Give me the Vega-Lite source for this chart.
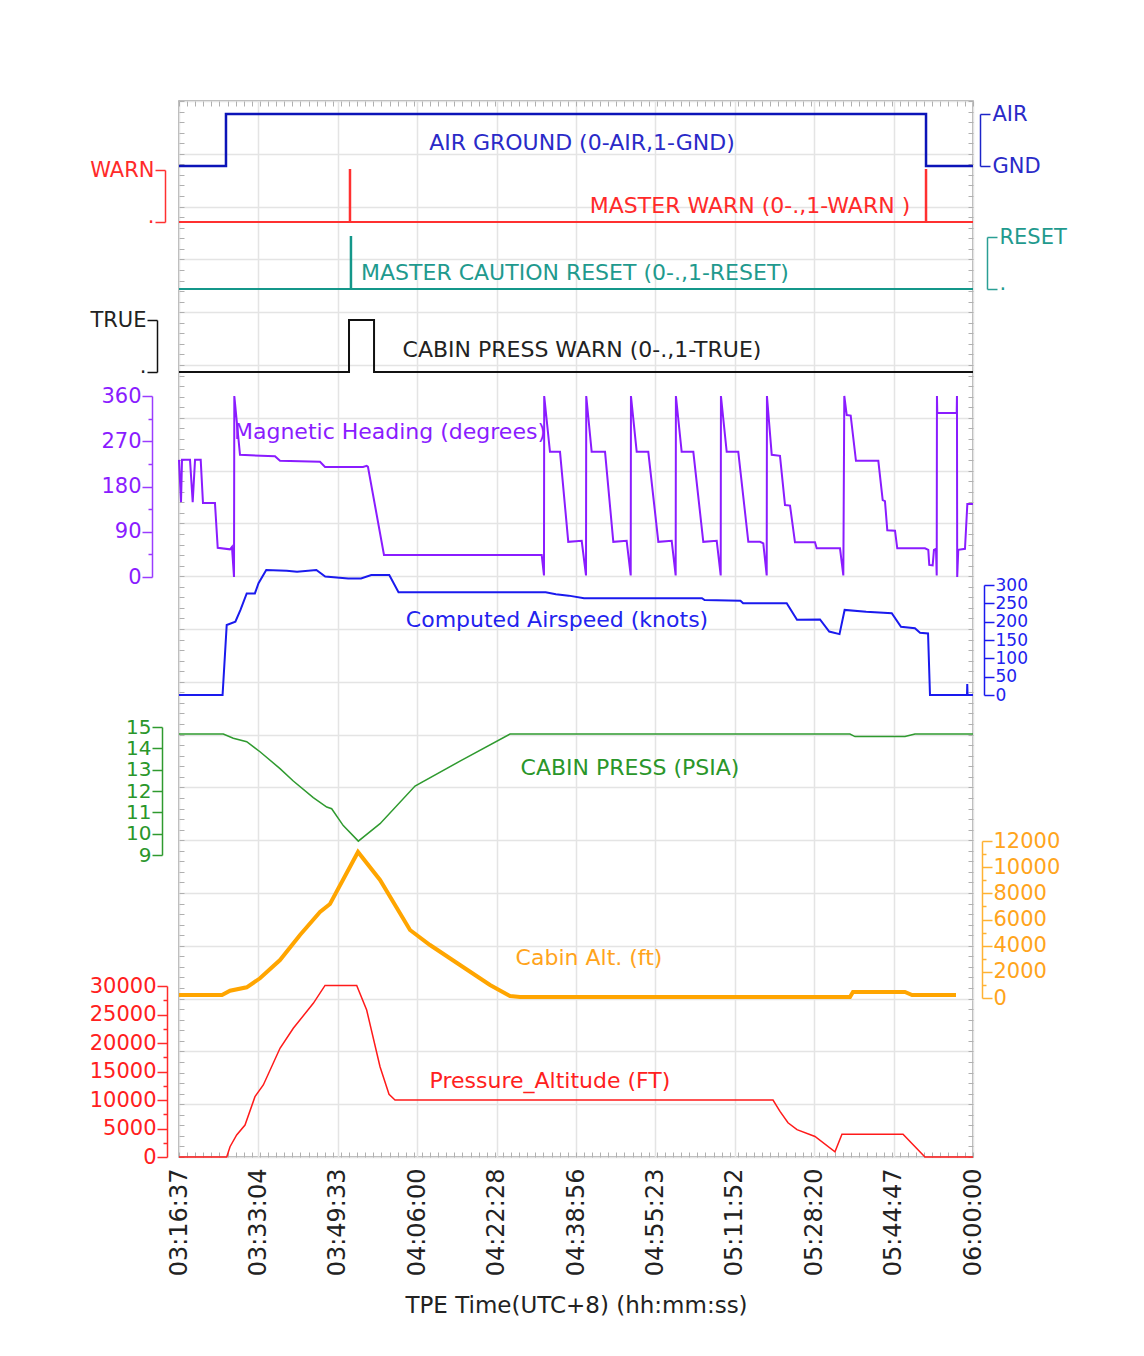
{
  "$schema": "https://vega.github.io/schema/vega-lite/v6.json",
  "width": 794,
  "height": 1056,
  "autosize": {"type": "none"},
  "padding": {"left": 179, "top": 101, "right": 171, "bottom": 199},
  "background": "white",
  "config": {
    "view": {"stroke": "#9a9a9a", "strokeWidth": 1.5},
    "font": "DejaVu Sans",
    "text": {"fontSize": 22, "align": "center", "baseline": "middle"},
    "axis": {"labelFont": "DejaVu Sans", "titleFont": "DejaVu Sans", "grid": false, "labelOverlap": false, "labelFlush": false, "labelBound": false, "title": null}
  },
  "datasets": {
    "frame": [{"t": 0, "g": 0}],
    "ag": [{"t": 0, "v": 1}, {"t": 580, "v": 0}, {"t": 9223, "v": 1}, {"t": 9803, "v": 1}],
    "mw": [{"t": 0, "v": 0}, {"t": 2108, "v": 1}, {"t": 2114, "v": 0}, {"t": 9220, "v": 1}, {"t": 9226, "v": 0}, {"t": 9803, "v": 0}],
    "mc": [{"t": 0, "v": 0}, {"t": 2120, "v": 1}, {"t": 2126, "v": 0}, {"t": 9803, "v": 0}],
    "cpw": [{"t": 0, "v": 0}, {"t": 2099, "v": 1}, {"t": 2408, "v": 0}, {"t": 9803, "v": 0}],
    "hdg": [
      {"t": 0, "v": 233}, {"t": 25, "v": 149}, {"t": 37, "v": 233}, {"t": 136, "v": 233}, {"t": 169, "v": 149}, {"t": 198, "v": 233},
      {"t": 268, "v": 233}, {"t": 296, "v": 147}, {"t": 444, "v": 147}, {"t": 478, "v": 58}, {"t": 630, "v": 55}, {"t": 654, "v": 60},
      {"t": 679, "v": 0}, {"t": 683, "v": 360}, {"t": 753, "v": 243}, {"t": 1185, "v": 240}, {"t": 1247, "v": 231}, {"t": 1741, "v": 229},
      {"t": 1803, "v": 219}, {"t": 2272, "v": 219}, {"t": 2317, "v": 221}, {"t": 2333, "v": 219}, {"t": 2531, "v": 44}, {"t": 4478, "v": 44},
      {"t": 4506, "v": 3}, {"t": 4509, "v": 360}, {"t": 4580, "v": 249}, {"t": 4704, "v": 249}, {"t": 4806, "v": 70}, {"t": 4972, "v": 72},
      {"t": 5025, "v": 3}, {"t": 5028, "v": 360}, {"t": 5095, "v": 249}, {"t": 5260, "v": 249}, {"t": 5362, "v": 70}, {"t": 5527, "v": 72},
      {"t": 5577, "v": 3}, {"t": 5580, "v": 360}, {"t": 5651, "v": 249}, {"t": 5794, "v": 249}, {"t": 5918, "v": 70}, {"t": 6083, "v": 72},
      {"t": 6132, "v": 3}, {"t": 6135, "v": 360}, {"t": 6206, "v": 249}, {"t": 6350, "v": 249}, {"t": 6473, "v": 70}, {"t": 6639, "v": 72},
      {"t": 6688, "v": 3}, {"t": 6691, "v": 360}, {"t": 6762, "v": 249}, {"t": 6905, "v": 249}, {"t": 7029, "v": 70}, {"t": 7173, "v": 70},
      {"t": 7214, "v": 67}, {"t": 7256, "v": 3}, {"t": 7259, "v": 360}, {"t": 7318, "v": 243}, {"t": 7420, "v": 241}, {"t": 7482, "v": 143},
      {"t": 7544, "v": 142}, {"t": 7605, "v": 69}, {"t": 7852, "v": 69}, {"t": 7873, "v": 57}, {"t": 8161, "v": 57}, {"t": 8202, "v": 3},
      {"t": 8214, "v": 360}, {"t": 8244, "v": 322}, {"t": 8293, "v": 321}, {"t": 8358, "v": 231}, {"t": 8634, "v": 231}, {"t": 8688, "v": 153},
      {"t": 8716, "v": 151}, {"t": 8745, "v": 93}, {"t": 8840, "v": 92}, {"t": 8868, "v": 57}, {"t": 9210, "v": 57}, {"t": 9251, "v": 54},
      {"t": 9263, "v": 24}, {"t": 9305, "v": 23}, {"t": 9321, "v": 54}, {"t": 9346, "v": 56}, {"t": 9355, "v": 3}, {"t": 9358, "v": 360},
      {"t": 9362, "v": 326}, {"t": 9602, "v": 326}, {"t": 9605, "v": 360}, {"t": 9608, "v": 0}, {"t": 9621, "v": 54}, {"t": 9704, "v": 56},
      {"t": 9733, "v": 145}, {"t": 9803, "v": 145}
    ],
    "cas": [
      {"t": 0, "v": 0}, {"t": 538, "v": 0}, {"t": 589, "v": 191}, {"t": 696, "v": 200}, {"t": 759, "v": 232}, {"t": 836, "v": 277},
      {"t": 937, "v": 277}, {"t": 982, "v": 305}, {"t": 1077, "v": 341}, {"t": 1330, "v": 339}, {"t": 1457, "v": 336}, {"t": 1696, "v": 341},
      {"t": 1805, "v": 323}, {"t": 2089, "v": 318}, {"t": 2247, "v": 318}, {"t": 2374, "v": 327}, {"t": 2596, "v": 327}, {"t": 2710, "v": 280},
      {"t": 4527, "v": 280}, {"t": 4653, "v": 275}, {"t": 4811, "v": 271}, {"t": 5001, "v": 264}, {"t": 6457, "v": 264}, {"t": 6489, "v": 259},
      {"t": 6932, "v": 257}, {"t": 6965, "v": 250}, {"t": 7503, "v": 250}, {"t": 7630, "v": 205}, {"t": 7914, "v": 206}, {"t": 8028, "v": 173},
      {"t": 8155, "v": 166}, {"t": 8218, "v": 232}, {"t": 8484, "v": 227}, {"t": 8800, "v": 223}, {"t": 8914, "v": 186}, {"t": 9086, "v": 182},
      {"t": 9149, "v": 170}, {"t": 9248, "v": 168}, {"t": 9272, "v": 0}, {"t": 9729, "v": 0}, {"t": 9732, "v": 30}, {"t": 9736, "v": 0},
      {"t": 9803, "v": 0}
    ],
    "cp": [
      {"t": 0, "v": 14.67}, {"t": 547, "v": 14.67}, {"t": 670, "v": 14.47}, {"t": 836, "v": 14.31}, {"t": 1000, "v": 13.84},
      {"t": 1247, "v": 13.05}, {"t": 1411, "v": 12.47}, {"t": 1658, "v": 11.69}, {"t": 1824, "v": 11.25}, {"t": 1885, "v": 11.17},
      {"t": 2028, "v": 10.38}, {"t": 2214, "v": 9.65}, {"t": 2482, "v": 10.47}, {"t": 2914, "v": 12.23}, {"t": 3469, "v": 13.4},
      {"t": 4087, "v": 14.67}, {"t": 8284, "v": 14.67}, {"t": 8346, "v": 14.55}, {"t": 8963, "v": 14.55}, {"t": 9087, "v": 14.67},
      {"t": 9803, "v": 14.67}
    ],
    "calt": [
      {"t": 0, "v": 230}, {"t": 531, "v": 230}, {"t": 630, "v": 556}, {"t": 836, "v": 818}, {"t": 1000, "v": 1506}, {"t": 1247, "v": 2900},
      {"t": 1494, "v": 4815}, {"t": 1741, "v": 6573}, {"t": 1864, "v": 7185}, {"t": 2210, "v": 11160}, {"t": 2482, "v": 9019},
      {"t": 2852, "v": 5198}, {"t": 3099, "v": 4051}, {"t": 3469, "v": 2522}, {"t": 3840, "v": 994}, {"t": 4087, "v": 150}, {"t": 4210, "v": 76},
      {"t": 8284, "v": 76}, {"t": 8321, "v": 460}, {"t": 8963, "v": 460}, {"t": 9050, "v": 230}, {"t": 9593, "v": 230}
    ],
    "palt": [
      {"t": 0, "v": 0}, {"t": 589, "v": 0}, {"t": 630, "v": 1807}, {"t": 712, "v": 3860}, {"t": 815, "v": 5614}, {"t": 938, "v": 10585},
      {"t": 1041, "v": 12632}, {"t": 1247, "v": 19070}, {"t": 1411, "v": 22580}, {"t": 1658, "v": 26965}, {"t": 1803, "v": 30100},
      {"t": 2194, "v": 30100}, {"t": 2317, "v": 25790}, {"t": 2482, "v": 15840}, {"t": 2593, "v": 11000}, {"t": 2667, "v": 10000},
      {"t": 7334, "v": 10000}, {"t": 7420, "v": 8000}, {"t": 7519, "v": 6000}, {"t": 7630, "v": 4800}, {"t": 7852, "v": 3600},
      {"t": 8099, "v": 900}, {"t": 8185, "v": 4000}, {"t": 8939, "v": 4000}, {"t": 9210, "v": 0}, {"t": 9803, "v": 0}
    ],
    "labels": [
      {"s": "ag", "t": 4975, "v": 0.56, "label": "AIR GROUND (0-AIR,1-GND)"},
      {"s": "mw", "t": 7050, "v": 0.31, "label": "MASTER WARN (0-.,1-WARN )"},
      {"s": "mc", "t": 4889, "v": 0.31, "label": "MASTER CAUTION RESET (0-.,1-RESET)"},
      {"s": "cpw", "t": 4975, "v": 0.42, "label": "CABIN PRESS WARN (0-.,1-TRUE)"},
      {"s": "hdg", "t": 2605, "v": 288, "label": "Magnetic Heading (degrees)"},
      {"s": "cas", "t": 4667, "v": 204, "label": "Computed Airspeed (knots)"},
      {"s": "cp", "t": 5568, "v": 13.08, "label": "CABIN PRESS (PSIA)"},
      {"s": "calt", "t": 5062, "v": 3057, "label": "Cabin Alt. (ft)"},
      {"s": "palt", "t": 4580, "v": 13333, "label": "Pressure_Altitude (FT)"}
    ]
  },
  "resolve": {"scale": {"x": "shared", "y": "independent"}, "axis": {"x": "independent", "y": "independent"}},
  "layer": [
    {
      "data": {"name": "frame"},
      "mark": {"type": "point", "opacity": 0},
      "encoding": {
        "x": {"field": "t", "type": "quantitative", "scale": {"domain": [0, 9803], "nice": false, "zero": false},
          "axis": {"orient": "bottom", "values": [0, 980.3, 1960.6, 2940.9, 3921.2, 4901.5, 5881.8, 6862.1, 7842.4, 8822.7, 9803],
            "labelExpr": "['03:16:37','03:33:04','03:49:33','04:06:00','04:22:28','04:38:56','04:55:23','05:11:52','05:28:20','05:44:47','06:00:00'][round(datum.value/980.3)]",
            "labelAngle": -90, "labelFontSize": 24, "labelColor": "#222222", "labelPadding": 11,
            "grid": true, "gridColor": "#e4e4e4", "gridWidth": 1.5, "ticks": false, "tickSize": 0, "domain": false,
            "title": "TPE Time(UTC+8) (hh:mm:ss)", "titleFontSize": 23, "titleFontWeight": "normal", "titleColor": "#222222", "titlePadding": 19}},
        "y": {"field": "g", "type": "quantitative", "scale": {"domain": [0, 100], "nice": false, "zero": false},
          "axis": {"orient": "left", "values": [0, 5, 10, 15, 20, 25, 30, 35, 40, 45, 50, 55, 60, 65, 70, 75, 80, 85, 90, 95, 100],
            "grid": true, "gridColor": "#e4e4e4", "gridWidth": 1.5, "labels": false, "ticks": false, "domain": false}}
      }
    },
    {
      "data": {"name": "frame"},
      "mark": {"type": "point", "opacity": 0},
      "encoding": {
        "x": {"field": "t", "type": "quantitative", "scale": {"domain": [0, 9803], "nice": false, "zero": false},
          "axis": {"orient": "bottom", "tickCount": 100, "tickSize": -5, "tickColor": "#b0b0b0", "labels": false, "domain": false, "grid": false}},
        "y": {"field": "g", "type": "quantitative", "scale": {"domain": [0, 100], "nice": false, "zero": false},
          "axis": {"orient": "left", "tickCount": 100, "tickSize": -5, "tickColor": "#b0b0b0", "labels": false, "domain": false, "grid": false}}
      }
    },
    {
      "data": {"name": "frame"},
      "mark": {"type": "point", "opacity": 0},
      "encoding": {
        "x": {"field": "t", "type": "quantitative", "scale": {"domain": [0, 9803], "nice": false, "zero": false},
          "axis": {"orient": "top", "tickCount": 100, "tickSize": -5, "tickColor": "#b0b0b0", "labels": false, "domain": false, "grid": false}},
        "y": {"field": "g", "type": "quantitative", "scale": {"domain": [0, 100], "nice": false, "zero": false},
          "axis": {"orient": "right", "tickCount": 100, "tickSize": -5, "tickColor": "#b0b0b0", "labels": false, "domain": false, "grid": false}}
      }
    },
    {
      "data": {"name": "ag"},
      "mark": {"type": "line", "interpolate": "step-after", "color": "#0c14b8", "strokeWidth": 2.5},
      "encoding": {
        "x": {"field": "t", "type": "quantitative", "scale": {"domain": [0, 9803], "nice": false, "zero": false}, "axis": null},
        "y": {"field": "v", "type": "quantitative", "scale": {"domain": [0, 1], "range": [13, 65], "nice": false, "zero": false},
          "axis": {"orient": "right", "offset": 7, "values": [0, 1], "labelExpr": "datum.value == 0 ? 'AIR' : 'GND'",
            "domainColor": "#1c24c8", "tickColor": "#1c24c8", "labelColor": "#2a2ac8", "domainWidth": 1.5, "tickWidth": 1.5,
            "tickSize": 10, "labelPadding": 2, "labelFontSize": 21}}
      }
    },
    {
      "data": {"name": "labels"},
      "transform": [{"filter": "datum.s == 'ag'"}],
      "mark": {"type": "text", "color": "#2a2ac8"},
      "encoding": {
        "x": {"field": "t", "type": "quantitative", "scale": {"domain": [0, 9803], "nice": false, "zero": false}, "axis": null},
        "y": {"field": "v", "type": "quantitative", "scale": {"domain": [0, 1], "range": [13, 65], "nice": false, "zero": false}, "axis": null},
        "text": {"field": "label"}
      }
    },
    {
      "data": {"name": "mw"},
      "mark": {"type": "line", "interpolate": "step-after", "color": "#ff3030", "strokeWidth": 2},
      "encoding": {
        "x": {"field": "t", "type": "quantitative", "scale": {"domain": [0, 9803], "nice": false, "zero": false}, "axis": null},
        "y": {"field": "v", "type": "quantitative", "scale": {"domain": [0, 1], "range": [121, 69], "nice": false, "zero": false},
          "axis": {"orient": "left", "offset": 14, "values": [0, 1], "labelExpr": "datum.value == 1 ? 'WARN' : '.'",
            "labelBaseline": {"condition": {"test": "datum.value == 0", "value": "alphabetic"}, "value": "middle"},
            "domainColor": "#ff3030", "tickColor": "#ff3030", "labelColor": "#ff2a2a", "domainWidth": 1.5, "tickWidth": 1.5,
            "tickSize": 10, "labelPadding": 1, "labelFontSize": 21}}
      }
    },
    {
      "data": {"name": "labels"},
      "transform": [{"filter": "datum.s == 'mw'"}],
      "mark": {"type": "text", "color": "#ff2a2a"},
      "encoding": {
        "x": {"field": "t", "type": "quantitative", "scale": {"domain": [0, 9803], "nice": false, "zero": false}, "axis": null},
        "y": {"field": "v", "type": "quantitative", "scale": {"domain": [0, 1], "range": [121, 69], "nice": false, "zero": false}, "axis": null},
        "text": {"field": "label"}
      }
    },
    {
      "data": {"name": "mc"},
      "mark": {"type": "line", "interpolate": "step-after", "color": "#14978a", "strokeWidth": 2},
      "encoding": {
        "x": {"field": "t", "type": "quantitative", "scale": {"domain": [0, 9803], "nice": false, "zero": false}, "axis": null},
        "y": {"field": "v", "type": "quantitative", "scale": {"domain": [0, 1], "range": [188, 136], "nice": false, "zero": false},
          "axis": {"orient": "right", "offset": 14, "values": [0, 1], "labelExpr": "datum.value == 1 ? 'RESET' : '.'",
            "labelBaseline": {"condition": {"test": "datum.value == 0", "value": "alphabetic"}, "value": "middle"},
            "domainColor": "#2a9f94", "tickColor": "#2a9f94", "labelColor": "#1f9a8e", "domainWidth": 1.5, "tickWidth": 1.5,
            "tickSize": 10, "labelPadding": 2, "labelFontSize": 21}}
      }
    },
    {
      "data": {"name": "labels"},
      "transform": [{"filter": "datum.s == 'mc'"}],
      "mark": {"type": "text", "color": "#1f9a8e"},
      "encoding": {
        "x": {"field": "t", "type": "quantitative", "scale": {"domain": [0, 9803], "nice": false, "zero": false}, "axis": null},
        "y": {"field": "v", "type": "quantitative", "scale": {"domain": [0, 1], "range": [188, 136], "nice": false, "zero": false}, "axis": null},
        "text": {"field": "label"}
      }
    },
    {
      "data": {"name": "cpw"},
      "mark": {"type": "line", "interpolate": "step-after", "color": "#111111", "strokeWidth": 2},
      "encoding": {
        "x": {"field": "t", "type": "quantitative", "scale": {"domain": [0, 9803], "nice": false, "zero": false}, "axis": null},
        "y": {"field": "v", "type": "quantitative", "scale": {"domain": [0, 1], "range": [271, 219], "nice": false, "zero": false},
          "axis": {"orient": "left", "offset": 22, "values": [0, 1], "labelExpr": "datum.value == 1 ? 'TRUE' : '.'",
            "labelBaseline": {"condition": {"test": "datum.value == 0", "value": "alphabetic"}, "value": "middle"},
            "domainColor": "#111111", "tickColor": "#111111", "labelColor": "#222222", "domainWidth": 1.5, "tickWidth": 1.5,
            "tickSize": 10, "labelPadding": 1, "labelFontSize": 21}}
      }
    },
    {
      "data": {"name": "labels"},
      "transform": [{"filter": "datum.s == 'cpw'"}],
      "mark": {"type": "text", "color": "#222222"},
      "encoding": {
        "x": {"field": "t", "type": "quantitative", "scale": {"domain": [0, 9803], "nice": false, "zero": false}, "axis": null},
        "y": {"field": "v", "type": "quantitative", "scale": {"domain": [0, 1], "range": [271, 219], "nice": false, "zero": false}, "axis": null},
        "text": {"field": "label"}
      }
    },
    {
      "data": {"name": "hdg"},
      "mark": {"type": "line", "color": "#8a1cff", "strokeWidth": 2},
      "encoding": {
        "x": {"field": "t", "type": "quantitative", "scale": {"domain": [0, 9803], "nice": false, "zero": false}, "axis": null},
        "y": {"field": "v", "type": "quantitative", "scale": {"domain": [0, 360], "range": [476, 295], "nice": false, "zero": false},
          "axis": {"orient": "left", "offset": 27, "values": [0, 45, 90, 135, 180, 225, 270, 315, 360], "format": "d",
            "labelExpr": "datum.value % 90 === 0 ? datum.label : ''",
            "domainColor": "#9a3cff", "tickColor": "#9a3cff", "labelColor": "#8a1cff", "domainWidth": 1.5, "tickWidth": 1.5,
            "tickSize": {"condition": {"test": "datum.value % 90 === 0", "value": 10}, "value": 4}, "labelPadding": 1, "labelFontSize": 21}}
      }
    },
    {
      "data": {"name": "labels"},
      "transform": [{"filter": "datum.s == 'hdg'"}],
      "mark": {"type": "text", "color": "#8a1cff"},
      "encoding": {
        "x": {"field": "t", "type": "quantitative", "scale": {"domain": [0, 9803], "nice": false, "zero": false}, "axis": null},
        "y": {"field": "v", "type": "quantitative", "scale": {"domain": [0, 360], "range": [476, 295], "nice": false, "zero": false}, "axis": null},
        "text": {"field": "label"}
      }
    },
    {
      "data": {"name": "cas"},
      "mark": {"type": "line", "color": "#1a1aee", "strokeWidth": 2},
      "encoding": {
        "x": {"field": "t", "type": "quantitative", "scale": {"domain": [0, 9803], "nice": false, "zero": false}, "axis": null},
        "y": {"field": "v", "type": "quantitative", "scale": {"domain": [0, 300], "range": [594, 484], "nice": false, "zero": false},
          "axis": {"orient": "right", "offset": 11, "values": [0, 50, 100, 150, 200, 250, 300], "format": "d",
            "domainColor": "#1a1aee", "tickColor": "#1a1aee", "labelColor": "#2222ee", "domainWidth": 1.5, "tickWidth": 1.5,
            "tickSize": 10, "labelPadding": 1, "labelFontSize": 17}}
      }
    },
    {
      "data": {"name": "labels"},
      "transform": [{"filter": "datum.s == 'cas'"}],
      "mark": {"type": "text", "color": "#2222ee"},
      "encoding": {
        "x": {"field": "t", "type": "quantitative", "scale": {"domain": [0, 9803], "nice": false, "zero": false}, "axis": null},
        "y": {"field": "v", "type": "quantitative", "scale": {"domain": [0, 300], "range": [594, 484], "nice": false, "zero": false}, "axis": null},
        "text": {"field": "label"}
      }
    },
    {
      "data": {"name": "cp"},
      "mark": {"type": "line", "color": "#2f9a2f", "strokeWidth": 1.5},
      "encoding": {
        "x": {"field": "t", "type": "quantitative", "scale": {"domain": [0, 9803], "nice": false, "zero": false}, "axis": null},
        "y": {"field": "v", "type": "quantitative", "scale": {"domain": [9, 15], "range": [754, 626], "nice": false, "zero": false},
          "axis": {"orient": "left", "offset": 17, "values": [9, 10, 11, 12, 13, 14, 15], "format": "d",
            "domainColor": "#2f9a2f", "tickColor": "#2f9a2f", "labelColor": "#2a962a", "domainWidth": 1.5, "tickWidth": 1.5,
            "tickSize": 10, "labelPadding": 1, "labelFontSize": 20}}
      }
    },
    {
      "data": {"name": "labels"},
      "transform": [{"filter": "datum.s == 'cp'"}],
      "mark": {"type": "text", "color": "#2a962a"},
      "encoding": {
        "x": {"field": "t", "type": "quantitative", "scale": {"domain": [0, 9803], "nice": false, "zero": false}, "axis": null},
        "y": {"field": "v", "type": "quantitative", "scale": {"domain": [9, 15], "range": [754, 626], "nice": false, "zero": false}, "axis": null},
        "text": {"field": "label"}
      }
    },
    {
      "data": {"name": "calt"},
      "mark": {"type": "line", "color": "#ffa500", "strokeWidth": 4},
      "encoding": {
        "x": {"field": "t", "type": "quantitative", "scale": {"domain": [0, 9803], "nice": false, "zero": false}, "axis": null},
        "y": {"field": "v", "type": "quantitative", "scale": {"domain": [0, 12000], "range": [897, 740], "nice": false, "zero": false},
          "axis": {"orient": "right", "offset": 9, "values": [0, 1000, 2000, 3000, 4000, 5000, 6000, 7000, 8000, 9000, 10000, 11000, 12000], "format": "d",
            "labelExpr": "datum.value % 2000 === 0 ? datum.label : ''",
            "domainColor": "#ffb233", "tickColor": "#ffb233", "labelColor": "#ffa41c", "domainWidth": 1.5, "tickWidth": 1.5,
            "tickSize": {"condition": {"test": "datum.value % 2000 === 0", "value": 10}, "value": 4}, "labelPadding": 1, "labelFontSize": 21}}
      }
    },
    {
      "data": {"name": "labels"},
      "transform": [{"filter": "datum.s == 'calt'"}],
      "mark": {"type": "text", "color": "#ffa41c"},
      "encoding": {
        "x": {"field": "t", "type": "quantitative", "scale": {"domain": [0, 9803], "nice": false, "zero": false}, "axis": null},
        "y": {"field": "v", "type": "quantitative", "scale": {"domain": [0, 12000], "range": [897, 740], "nice": false, "zero": false}, "axis": null},
        "text": {"field": "label"}
      }
    },
    {
      "data": {"name": "palt"},
      "mark": {"type": "line", "color": "#ff1a1a", "strokeWidth": 1.5},
      "encoding": {
        "x": {"field": "t", "type": "quantitative", "scale": {"domain": [0, 9803], "nice": false, "zero": false}, "axis": null},
        "y": {"field": "v", "type": "quantitative", "scale": {"domain": [0, 30000], "range": [1056, 885], "nice": false, "zero": false},
          "axis": {"orient": "left", "offset": 12, "values": [0, 2500, 5000, 7500, 10000, 12500, 15000, 17500, 20000, 22500, 25000, 27500, 30000], "format": "d",
            "labelExpr": "datum.value % 5000 === 0 ? datum.label : ''",
            "domainColor": "#ff2a2a", "tickColor": "#ff2a2a", "labelColor": "#ff2020", "domainWidth": 1.5, "tickWidth": 1.5,
            "tickSize": {"condition": {"test": "datum.value % 5000 === 0", "value": 10}, "value": 4}, "labelPadding": 1, "labelFontSize": 21}}
      }
    },
    {
      "data": {"name": "labels"},
      "transform": [{"filter": "datum.s == 'palt'"}],
      "mark": {"type": "text", "color": "#ff2020"},
      "encoding": {
        "x": {"field": "t", "type": "quantitative", "scale": {"domain": [0, 9803], "nice": false, "zero": false}, "axis": null},
        "y": {"field": "v", "type": "quantitative", "scale": {"domain": [0, 30000], "range": [1056, 885], "nice": false, "zero": false}, "axis": null},
        "text": {"field": "label"}
      }
    }
  ]
}
